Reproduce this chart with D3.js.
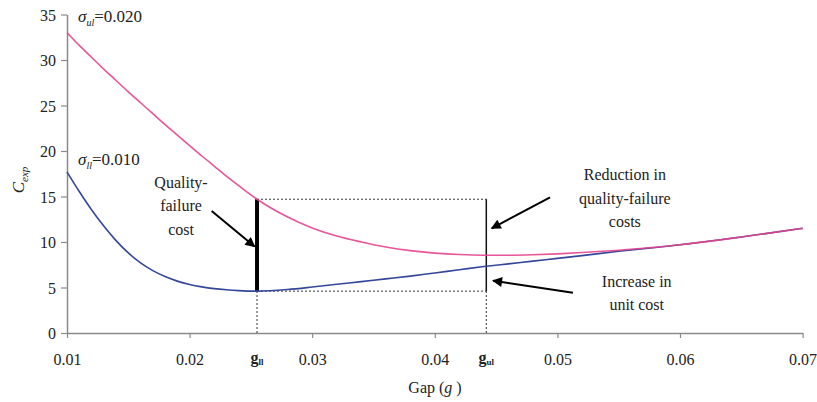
<!DOCTYPE html>
<html>
<head>
<meta charset="utf-8">
<script src="https://cdn.jsdelivr.net/npm/d3@7"></script>
<style>
  html, body { margin: 0; padding: 0; background: #fff; }
  svg { display: block; }
  text { font-family: "Liberation Serif", "Times New Roman", serif; fill: #222; }
</style>
</head>
<body>
<svg id="chart" width="817" height="402"></svg>
<script>
// ---------------- data ----------------
const gapValues = [0.010, 0.011, 0.012, 0.013, 0.014, 0.015, 0.016, 0.017, 0.018, 0.019, 0.020, 0.021, 0.022, 0.023, 0.024, 0.0255,
                   0.028, 0.030, 0.032, 0.034, 0.036, 0.038, 0.040, 0.042, 0.044, 0.046, 0.048, 0.050, 0.052, 0.055, 0.058, 0.060, 0.065, 0.070];
const costUpper = [33.0, 31.6, 30.3, 29.0, 27.75, 26.5, 25.3, 24.1, 22.9, 21.75, 20.6, 19.45, 18.35, 17.25, 16.2, 14.7,
                   12.75, 11.55, 10.65, 10.0, 9.45, 9.05, 8.78, 8.62, 8.55, 8.55, 8.6, 8.7, 8.84, 9.1, 9.42, 9.7, 10.55, 11.5];
const costLower = [17.7, 15.55, 13.55, 11.75, 10.15, 8.8, 7.7, 6.85, 6.2, 5.7, 5.33, 5.07, 4.88, 4.75, 4.66, 4.6,
                   4.78, 5.05, 5.35, 5.65, 5.95, 6.25, 6.6, 6.95, 7.3, 7.6, 7.9, 8.2, 8.5, 8.98, 9.4, 9.7, 10.55, 11.5];
const xTickValues = [0.01, 0.02, 0.03, 0.04, 0.05, 0.06, 0.07];
const yTickValues = [0, 5, 10, 15, 20, 25, 30, 35];
const gLL = 0.0255;          // g_ll
const gUL = 0.0442;          // g_ul
const boxTop = 14.7;         // top of the bracket box
const boxBottom = 4.6;       // bottom of the bracket box (min of lower curve)
const seriesLabels = [
  { sym: "σ", sub: "ul", rest: "=0.020", g: 0.0109, v: 34.8 },
  { sym: "σ", sub: "ll", rest: "=0.010", g: 0.0109, v: 19.1 }
];
const notes = [
  { lines: ["Quality-", "failure", "cost"], g: 0.0193, v: 16.5, from: [0.0218, 13.4], to: [0.0253, 9.5] },
  { lines: ["Reduction in", "quality-failure", "costs"], g: 0.0555, v: 17.35, from: [0.0494, 14.9], to: [0.04464, 11.5] },
  { lines: ["Increase in", "unit cost"], g: 0.05647, v: 5.64, from: [0.05127, 4.43], to: [0.04475, 5.75] }
];

// ---------------- scales ----------------
const svg = d3.select("#chart");
const x = d3.scaleLinear().domain([0.01, 0.07]).range([67, 802.6]);
const y = d3.scaleLinear().domain([0, 35]).range([333, 14.5]);

const axisColor = "#8a8a8a";

// axes
const xAxis = svg.append("g").attr("transform", `translate(0,${y(0)})`)
  .call(d3.axisBottom(x).tickValues(xTickValues).tickFormat(d3.format(".2f")).tickSize(5).tickSizeOuter(0).tickPadding(16));
const yAxis = svg.append("g").attr("transform", `translate(${x(0.01)},0)`)
  .call(d3.axisLeft(y).tickValues(yTickValues).tickSize(6).tickSizeOuter(0).tickPadding(5));
[xAxis, yAxis].forEach(a => {
  a.selectAll("path.domain").attr("stroke", axisColor).attr("stroke-width", 1.5);
  a.selectAll(".tick line").attr("stroke", axisColor).attr("stroke-width", 1.2);
  a.selectAll(".tick text").attr("font-family", "Liberation Serif, serif").attr("font-size", 16).attr("fill", "#222");
});
yAxis.selectAll(".tick text").attr("dy", "0.35em");

// g_ll / g_ul tick labels
[[gLL, "ll"], [gUL, "ul"]].forEach(([g, s]) => {
  const t = svg.append("text").attr("x", x(g)).attr("y", y(0) + 30)
    .attr("text-anchor", "middle").attr("font-size", 16).attr("font-weight", "bold");
  t.append("tspan").text("g");
  t.append("tspan").attr("font-size", 9).attr("dy", 2).text(s);
});

// axis titles
const xt = svg.append("text").attr("x", 435).attr("y", 393).attr("text-anchor", "middle").attr("font-size", 16);
xt.append("tspan").text("Gap (");
xt.append("tspan").attr("font-style", "italic").text("g");
xt.append("tspan").text(" )");

const yt = svg.append("text").attr("transform", "translate(24,180) rotate(-90)").attr("text-anchor", "middle").attr("font-size", 17);
yt.append("tspan").attr("font-style", "italic").text("C");
yt.append("tspan").attr("font-size", 11).attr("font-style", "italic").attr("dy", 4).text("exp");

// ---------------- annotation box ----------------
const ann = svg.append("g");
[gLL, gUL].forEach(g => {
  ann.append("line").attr("x1", x(g)).attr("x2", x(g)).attr("y1", y(0)).attr("y2", y(boxBottom))
    .attr("stroke", "#333").attr("stroke-width", 1).attr("stroke-dasharray", "2,2");
});
[boxTop, boxBottom].forEach(v => {
  ann.append("line").attr("x1", x(gLL)).attr("x2", x(gUL)).attr("y1", y(v)).attr("y2", y(v))
    .attr("stroke", "#333").attr("stroke-width", 1).attr("stroke-dasharray", "2,2");
});
ann.append("line").attr("x1", x(gUL)).attr("x2", x(gUL)).attr("y1", y(boxTop)).attr("y2", y(boxBottom))
  .attr("stroke", "#111").attr("stroke-width", 1.5);

// ---------------- curves ----------------
const line = d3.line().x(d => x(d[0])).y(d => y(d[1])).curve(d3.curveMonotoneX);
svg.append("path").datum(gapValues.map((g, i) => [g, costLower[i]]))
  .attr("d", line).attr("fill", "none").attr("stroke", "#35479a").attr("stroke-width", 1.6);
svg.append("path").datum(gapValues.map((g, i) => [g, costUpper[i]]))
  .attr("d", line).attr("fill", "none").attr("stroke", "#e4448e").attr("stroke-width", 1.6).attr("opacity", 0.9);

// thick black bar at g_ll
ann.append("line").attr("x1", x(gLL)).attr("x2", x(gLL)).attr("y1", y(boxTop)).attr("y2", y(boxBottom))
  .attr("stroke", "#000").attr("stroke-width", 4);

// ---------------- series labels ----------------
seriesLabels.forEach(s => {
  const t = svg.append("text").attr("x", x(s.g)).attr("y", y(s.v) + 6).attr("font-size", 17);
  t.append("tspan").attr("font-style", "italic").text(s.sym);
  t.append("tspan").attr("font-style", "italic").attr("font-size", 10).attr("dy", 4).text(s.sub);
  t.append("tspan").attr("dy", -4).text(s.rest);
});

// ---------------- notes with arrows ----------------
svg.append("defs").append("marker").attr("id", "ah").attr("viewBox", "0 0 10 10")
  .attr("refX", 9).attr("refY", 5).attr("markerWidth", 6).attr("markerHeight", 5)
  .attr("markerUnits", "strokeWidth").attr("orient", "auto")
  .append("path").attr("d", "M0,0 L10,5 L0,10 z").attr("fill", "#000");

notes.forEach(n => {
  const t = svg.append("text").attr("x", x(n.g)).attr("y", y(n.v) + 5).attr("text-anchor", "middle").attr("font-size", 16);
  n.lines.forEach((l, i) => t.append("tspan").attr("x", x(n.g)).attr("dy", i === 0 ? 0 : 23.5).text(l));
  svg.append("line").attr("x1", x(n.from[0])).attr("y1", y(n.from[1]))
    .attr("x2", x(n.to[0])).attr("y2", y(n.to[1]))
    .attr("stroke", "#000").attr("stroke-width", 2).attr("marker-end", "url(#ah)");
});
</script>
</body>
</html>
